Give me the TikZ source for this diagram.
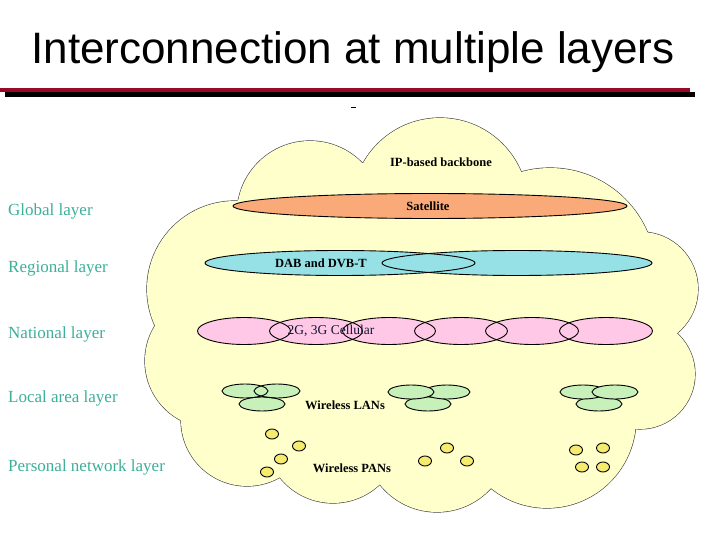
\documentclass[tikz,border=0pt]{standalone}
\usepackage{fontspec}
\setmainfont{Liberation Serif}
\newfontfamily\titlefont{Liberation Sans}
\usetikzlibrary{shapes.geometric}

\definecolor{cloudfill}{RGB}{255,255,204}
\definecolor{layerteal}{RGB}{60,175,155}
\definecolor{satorange}{RGB}{250,170,120}
\definecolor{dabcyan}{RGB}{150,225,230}
\definecolor{cellpink}{RGB}{255,200,230}
\definecolor{langreen}{RGB}{200,240,185}
\definecolor{panyellow}{RGB}{245,235,110}
\definecolor{barred}{RGB}{150,10,40}
\definecolor{cellnavy}{RGB}{20,20,55}

\tikzset{
  layerlabel/.style={anchor=west, inner sep=0pt, text=layerteal, font=\fontsize{17}{20}\selectfont},
  netlabel/.style={inner sep=0pt, font=\bfseries\fontsize{12.5}{15}\selectfont},
  outline/.style={draw=black, line width=0.9pt},
}

% centre x / centre y / radius of the bumps of the cloud
\def\cloudbumps{310/214/73, 440/206/88, 550/274/106, 641/289/57, 640/374/55, 547/419/89, 437/439/73, 333/435/68, 247/420/66, 212/361/67, 235/289/88}

\begin{document}
\begin{tikzpicture}[x=1pt, y=-1pt]
\useasboundingbox (0,0) rectangle (720,540);

% title and bars
\node (title) [anchor=base] at (353,64) {\titlefont\fontsize{44}{50}\selectfont Interconnection at multiple layers};
\fill[barred] (0,88) rectangle (690,92.5);
\fill[black] (5,92.5) rectangle (695,97);
\draw[line width=0.8pt] (351,107) -- (356,107);

% cloud: outlines first, then fills on top
\foreach \cx/\cy/\r in \cloudbumps
  \draw[line width=1.2pt, draw=black!75] (\cx,\cy) circle[radius=\r];
\fill[cloudfill] (238,200) -- (363,163) -- (521,172) -- (648,233) -- (677,333) -- (636,428)
  -- (491,488) -- (382,483) -- (283,476) -- (181,421) -- (155,326) -- cycle;
\foreach \cx/\cy/\r in \cloudbumps
  \fill[cloudfill] (\cx,\cy) circle[radius=\r];

% layer labels
\node[layerlabel] (global) at (8,211) {Global layer};
\node[layerlabel] (regional) at (8,268) {Regional layer};
\node[layerlabel] (national) at (8,334) {National layer};
\node[layerlabel] (local) at (8,398) {Local area layer};
\node[layerlabel] (personal) at (8,467) {Personal network layer};

% satellite
\filldraw[outline, fill=satorange] (430,206) ellipse[x radius=197, y radius=12.5];

% DAB and DVB-T
\foreach \x in {340,517}
  \fill[dabcyan] (\x,263) ellipse[x radius=135, y radius=12.5];
\foreach \x in {340,517}
  \draw[outline] (\x,263) ellipse[x radius=135, y radius=12.5];

% cellular
\foreach \x in {244,316,389,461,532,606}
  \fill[cellpink] (\x,331) ellipse[x radius=46.5, y radius=13.5];
\foreach \x in {244,316,389,461,532,606}
  \draw[outline] (\x,331) ellipse[x radius=46.5, y radius=13.5];

% wireless LANs
\foreach \x/\y in {245/391, 277/391, 262/404}
  \fill[langreen] (\x,\y) ellipse[x radius=23, y radius=7];
\foreach \x/\y in {245/391, 277/391, 262/404}
  \draw[outline] (\x,\y) ellipse[x radius=23, y radius=7];
\foreach \x/\y in {428/404, 447/392, 411/392, 599/404, 583/392, 615/392}
  \filldraw[outline, fill=langreen] (\x,\y) ellipse[x radius=23, y radius=7];

% wireless PANs
\foreach \x/\y in {272/434, 299/446, 281/459, 267/472, 447/448, 425/461, 467/461, 576/450, 603/448, 582/467, 603/467}
  \filldraw[outline, fill=panyellow] (\x,\y) ellipse[x radius=6.5, y radius=5];

% network labels
\node[netlabel] (backbone) at (441,162) {IP-based backbone};
\node[netlabel] (satellite) at (428,206) {Satellite};
\node[netlabel] (dab) at (321,263) {DAB and DVB-T};
\node[inner sep=0pt, text=cellnavy, font=\fontsize{13.5}{16}\selectfont] (cellular) at (331,331) {2G, 3G Cellular};
\node[netlabel] (lans) at (345,405) {Wireless LANs};
\node[netlabel] (pans) at (352,468) {Wireless PANs};
\end{tikzpicture}
\end{document}
